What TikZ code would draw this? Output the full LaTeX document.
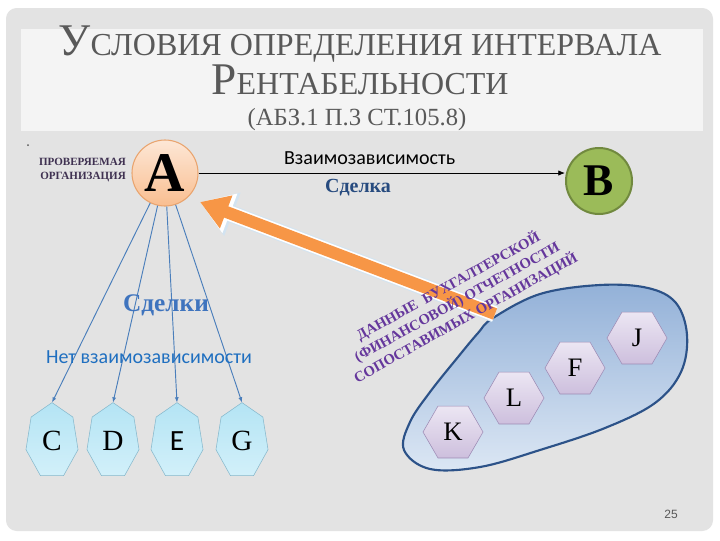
\documentclass[tikz,border=0pt]{standalone}
\usepackage{fontspec}
\setmainfont{Liberation Serif}
\newfontfamily\timesf{Liberation Serif}
\newfontfamily\calib{Carlito}
\newfontfamily\arialf{Liberation Sans}
\usetikzlibrary{shapes.geometric,arrows.meta}

\definecolor{panelgray}{HTML}{E3E3E3}
\definecolor{titlewhite}{HTML}{F4F4F4}
\definecolor{titlegray}{HTML}{595959}
\definecolor{peachtop}{HTML}{FDE7D6}
\definecolor{peachbot}{HTML}{F9BE90}
\definecolor{peachline}{HTML}{E9A46E}
\definecolor{olive}{HTML}{9BBB59}
\definecolor{oliveline}{HTML}{71893F}
\definecolor{fanblue}{HTML}{4A7EBB}
\definecolor{hepttop}{HTML}{B4E4F4}
\definecolor{heptbot}{HTML}{D2F0FA}
\definecolor{heptline}{HTML}{86B8CC}
\definecolor{hextop}{HTML}{ECE6F3}
\definecolor{hexbot}{HTML}{CDBFDD}
\definecolor{hexline}{HTML}{9C8AB4}
\definecolor{blobtop}{HTML}{93B1D8}
\definecolor{blobbot}{HTML}{DCE7F4}
\definecolor{blobline}{HTML}{2C5288}
\definecolor{dealblue}{HTML}{274B7F}
\definecolor{dealsblue}{HTML}{3F74BE}
\definecolor{nodepblue}{HTML}{1F6FC0}
\definecolor{orgpurple}{HTML}{3F3151}
\definecolor{datapurple}{HTML}{65379C}
\definecolor{arroworange}{HTML}{F79646}
\definecolor{arrowglow}{HTML}{D2E3F1}

\begin{document}
\begin{tikzpicture}[x=0.75pt,y=-0.75pt,
    org/.style={circle, minimum size=49.5pt, inner sep=0pt},
    hexa/.style={regular polygon, regular polygon sides=6, minimum size=45pt, inner sep=0pt,
        draw=hexline, top color=hextop, bottom color=hexbot, font=\timesf\fontsize{20}{20}\selectfont},
    hepta/.style={draw=heptline, top color=hepttop, bottom color=heptbot},
    fan/.style={draw=fanblue, line width=0.7pt, -{Latex[length=4pt,width=3pt]}},
    titletext/.style={text=titlegray, inner sep=0pt, anchor=base, font=\timesf\fontsize{24}{24}\selectfont}]
    \useasboundingbox (0,0) rectangle (720,540);
    \fill[white] (0,0) rectangle (720,540);
    \fill[panelgray, rounded corners=8pt] (6,8) rectangle (713,531);
    \fill[titlewhite] (21,29) rectangle (703,131);

    \node[titletext] (t1) at (360,55) {{\fontsize{34}{34}\selectfont У}СЛОВИЯ ОПРЕДЕЛЕНИЯ ИНТЕРВАЛА};
    \node[titletext] (t2) at (360,94) {{\fontsize{34}{34}\selectfont Р}ЕНТАБЕЛЬНОСТИ};
    \node[titletext, font=\timesf\fontsize{18.5}{18.5}\selectfont] (t3) at (357,125) {(АБЗ.1 П.3 СТ.105.8)};
    \fill[titlegray] (28,145) circle (1);

    \node[org, draw=peachline, line width=0.8pt, top color=peachtop, bottom color=peachbot,
        font=\timesf\bfseries\fontsize{42}{42}\selectfont] (A) at (165,173) {A};
    \node[org, draw=oliveline, line width=1.5pt, fill=olive,
        font=\timesf\bfseries\fontsize{34}{34}\selectfont] (B) at (599,181) {B};
    \node[anchor=east, align=right, text=orgpurple, inner sep=0pt,
        font=\timesf\bfseries\fontsize{8.3}{10.5}\selectfont] (org) at (126,170) {ПРОВЕРЯЕМАЯ\\ОРГАНИЗАЦИЯ};

    \draw[line width=0.6pt, -{Latex[length=5pt,width=4pt]}] (A.east) -- node[pos=0.467, above=6pt, inner sep=0pt,
        font=\calib\fontsize{15}{15}\selectfont] (dep) {Взаимозависимость} (A.east -| B.west);
    \node[text=dealblue, font=\timesf\bfseries\fontsize{15}{15}\selectfont] (deal) at (358,188) {Сделка};

    \foreach \n/\x/\f in {C/52/\timesf, D/113/\timesf, E/177/\calib, G/242/\timesf} {
        \draw[hepta] (\x,441) +(-90:26.7 and 38.4)
            \foreach \k in {1,...,6} { -- +(-90+\k*51.4286:26.7 and 38.4) } -- cycle;
        \node[font=\f\fontsize{22}{22}\selectfont] (\n) at (\x,441) {\n};
        \coordinate (\n-top) at (\x,402.6);
    }
    \foreach \n in {C,D,E,G}
        \draw[fan] (A) -- (\n-top);

    \node[text=dealsblue, font=\timesf\bfseries\fontsize{19}{19}\selectfont] (deals) at (166,305) {Сделки};
    \node[text=nodepblue, font=\calib\fontsize{15}{15}\selectfont] (nodep) at (149,357) {Нет взаимозависимости};

    \draw[draw=blobline, line width=1.6pt, top color=blobtop, bottom color=blobbot]
        plot[smooth cycle, tension=0.6] coordinates {(493,318) (540,294) (600,285) (648,288) (676,303)
        (687,335) (681,372) (655,403) (605,428) (540,450) (480,467) (430,469) (404,450) (410,422)
        (430,392) (458,357) (478,333)};

    \coordinate (datatail) at (495,314);
    \coordinate (datatip) at (200,202);
    \draw[arrowglow, line width=13pt, -{Triangle[length=26pt,width=33pt]}] (datatail) -- (datatip);
    \draw[white, line width=11.5pt, -{Triangle[length=24pt,width=30pt]}] (datatail) -- (datatip);
    \draw[arroworange, line width=9pt, -{Triangle[length=21pt,width=25pt]}] (datatail) -- (datatip);

    \node[rotate=29, align=center, text=datapurple, font=\timesf\bfseries\fontsize{11}{13.5}\selectfont]
        (data) at (457,302) {ДАННЫЕ \ БУХГАЛТЕРСКОЙ\\(ФИНАНСОВОЙ) ОТЧЕТНОСТИ\\СОПОСТАВИМЫХ ОРГАНИЗАЦИЙ};

    \node[hexa] (K) at (453,432) {K};
    \node[hexa] (L) at (514,398) {L};
    \node[hexa] (F) at (575,368) {F};
    \node[hexa] (J) at (637,338) {J};

    \node[text=titlegray, font=\arialf\fontsize{9}{9}\selectfont] (pg) at (671,514) {25};
\end{tikzpicture}
\end{document}
